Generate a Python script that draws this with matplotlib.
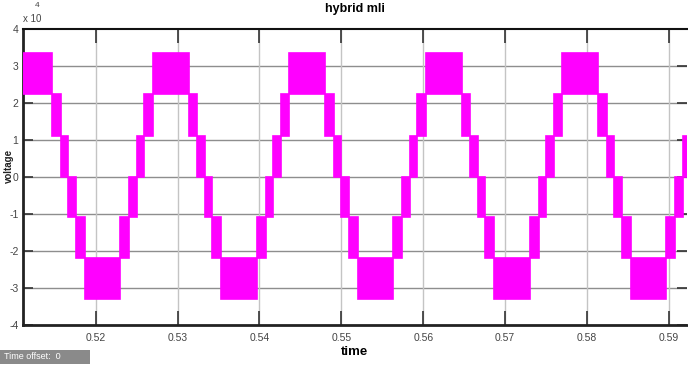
import matplotlib
matplotlib.use("Agg")
import matplotlib.pyplot as plt

# Inverter output levels (V)
levels = [-33000, -21900, -10900, 0, 11200, 22300, 33500]

# Switching instants (s) between consecutive PWM bands
switch_times = [
    0.51000, 0.51469, 0.51575, 0.51667, 0.51759, 0.51865, 0.52302, 0.52408, 0.52500, 0.52592,
    0.52698, 0.53135, 0.53241, 0.53333, 0.53425, 0.53531, 0.53969, 0.54075, 0.54167, 0.54259,
    0.54365, 0.54802, 0.54908, 0.55000, 0.55092, 0.55198, 0.55635, 0.55741, 0.55833, 0.55925,
    0.56031, 0.56469, 0.56575, 0.56667, 0.56759, 0.56865, 0.57302, 0.57408, 0.57500, 0.57592,
    0.57698, 0.58135, 0.58241, 0.58333, 0.58425, 0.58531, 0.58969, 0.59075, 0.59167, 0.59259,
    0.59365,
]

# Lower level index of the band the output switches within during each interval
band_lower = [
    5, 4, 3, 2, 1, 0, 1, 2, 3, 4,
    5, 4, 3, 2, 1, 0, 1, 2, 3, 4,
    5, 4, 3, 2, 1, 0, 1, 2, 3, 4,
    5, 4, 3, 2, 1, 0, 1, 2, 3, 4,
    5, 4, 3, 2, 1, 0, 1, 2, 3, 4,
]

x_ticks = [0.52, 0.53, 0.54, 0.55, 0.56, 0.57, 0.58, 0.59]
x_tick_labels = ["0.52", "0.53", "0.54", "0.55", "0.56", "0.57", "0.58", "0.59"]
y_ticks = [-40000, -30000, -20000, -10000, 0, 10000, 20000, 30000, 40000]
y_tick_labels = ["-4", "-3", "-2", "-1", "0", "1", "2", "3", "4"]

FONT = ["Liberation Sans Narrow", "Liberation Sans", "DejaVu Sans"]
plt.rcParams["font.family"] = FONT

fig = plt.figure(figsize=(6.88, 3.65), dpi=100)
ax = fig.add_axes([0.033, 0.1096, 0.9655, 0.811])

MAGENTA = "#ff00ff"
starts = switch_times[:-1]
widths = [b - a for a, b in zip(switch_times[:-1], switch_times[1:])]
bottoms = [levels[i] for i in band_lower]
heights = [levels[i + 1] - levels[i] for i in band_lower]
ax.bar(starts, heights, width=widths, bottom=bottoms, align="edge",
       color=MAGENTA, edgecolor=MAGENTA, linewidth=1.2, zorder=3)

ax.set_xlim(0.5111, 0.5922)
ax.set_ylim(-40000, 40000)

ax.set_xticks(x_ticks)
ax.set_xticklabels(x_tick_labels)
ax.set_yticks(y_ticks)
ax.set_yticklabels(y_tick_labels)

# grid: darker horizontal, lighter vertical
ax.grid(False)
for y in y_ticks[1:-1]:
    ax.axhline(y, color="#8e8e8e", linewidth=1.0, zorder=1)
for x in x_ticks:
    ax.axvline(x, color="#c4c4c4", linewidth=1.0, zorder=1)

ax.tick_params(axis="both", which="both", direction="in", colors="#333333",
               labelcolor="#444444", labelsize=7.5, top=True, right=True,
               width=1.2)
ax.tick_params(axis="x", length=10, pad=6)
ax.tick_params(axis="y", length=7, pad=3)

for side in ("left", "bottom"):
    ax.spines[side].set_linewidth(2.0)
    ax.spines[side].set_color("#222222")
ax.spines["top"].set_linewidth(1.5)
ax.spines["top"].set_color("#111111")
ax.spines["right"].set_visible(False)

ax.set_title("hybrid mli", fontsize=9, fontweight="bold", pad=12)
ax.set_xlabel("time", fontsize=9.5, fontweight="bold", labelpad=2)
fig.text(0.013, 0.545, "voltage", fontsize=7, fontweight="bold", rotation=90,
         ha="center", va="center", color="#222222")

fig.text(0.033, 0.935, "x 10", fontsize=7, color="#444444", ha="left", va="bottom")
fig.text(0.051, 0.975, "4", fontsize=6, color="#444444", ha="left", va="bottom")

# time offset box
fig.patches.append(plt.Rectangle((0.0, 0.003), 0.131, 0.038, transform=fig.transFigure,
                                 facecolor="#8a8a8a", edgecolor="none", zorder=0))
fig.text(0.006, 0.022, "Time offset:  0", fontsize=6.5, color="white",
         ha="left", va="center")

fig.savefig("out.png", dpi=100)
